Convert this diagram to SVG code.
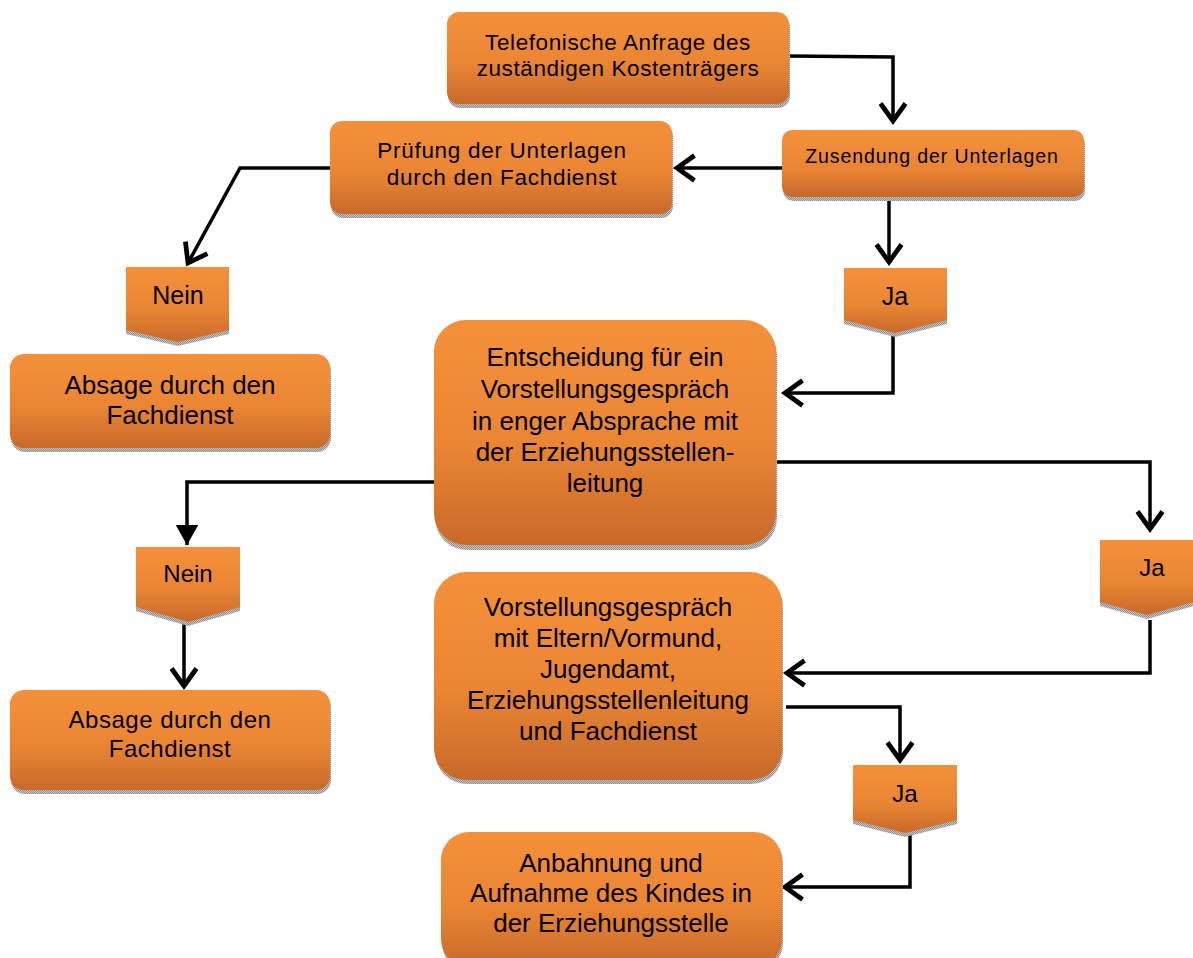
<svg xmlns="http://www.w3.org/2000/svg" width="1193" height="958" viewBox="0 0 1193 958">
<defs>
<linearGradient id="og" x1="0" y1="0" x2="0" y2="1">
<stop offset="0" stop-color="#f5903a"/>
<stop offset="0.55" stop-color="#ea8633"/>
<stop offset="1" stop-color="#c8692a"/>
</linearGradient>
<pattern id="stip" width="2" height="2" patternUnits="userSpaceOnUse">
<rect width="2" height="2" fill="#c8c8c8"/>
<rect width="1" height="1" fill="#8a8a8a"/>
<rect x="1" y="1" width="1" height="1" fill="#8a8a8a"/>
</pattern>
<marker id="open" markerUnits="userSpaceOnUse" markerWidth="30" markerHeight="30" viewBox="-18 -12 22 24" refX="0" refY="0" orient="auto">
<path d="M-14,-10 L0,0 L-14,10" fill="none" stroke="#000" stroke-width="3.8" stroke-linejoin="miter"/>
</marker>
<marker id="solid" markerUnits="userSpaceOnUse" markerWidth="30" markerHeight="30" viewBox="-18 -12 22 24" refX="0" refY="0" orient="auto">
<path d="M-16,-9 L0,0 L-16,9 Z" fill="#000"/>
</marker>
</defs>
<style>
.box{fill:url(#og);}
.sh{fill:url(#stip);}
.t{font-family:"Liberation Sans",Arial,Helvetica,sans-serif;fill:#000;text-anchor:middle;}
.c{fill:none;stroke:#000;stroke-width:3.5;stroke-linejoin:miter;}
</style>

<g id="connectors">
<path class="c" d="M789,56 L893,57 L893,121" marker-end="url(#open)"/>
<path class="c" d="M782,168 L677,168" marker-end="url(#open)"/>
<path class="c" d="M889,197 L889,262" marker-end="url(#open)"/>
<path class="c" d="M330,168 L240,168 L188,263" marker-end="url(#open)"/>
<path class="c" d="M893,333 L893,393 L785,393" marker-end="url(#open)"/>
<path class="c" d="M776,462 L1150,462 L1150,529" marker-end="url(#open)"/>
<path class="c" d="M434,482 L187,482 L187,545" marker-end="url(#solid)"/>
<path class="c" d="M184,622 L184,686" marker-end="url(#open)"/>
<path class="c" d="M1150,620 L1150,673 L787,673" marker-end="url(#open)"/>
<path class="c" d="M786,707 L900,707 L900,760" marker-end="url(#open)"/>
<path class="c" d="M910,833 L910,887 L785,887" marker-end="url(#open)"/>
</g>

<g id="n-telefon">
<rect class="sh" x="448" y="15" width="342" height="93" rx="12"/>
<rect class="box" x="447" y="12" width="342" height="92" rx="12"/>
<text class="t" font-size="22.5" letter-spacing="0.6" x="618" y="50">Telefonische Anfrage des</text>
<text class="t" font-size="22.5" letter-spacing="0.6" x="618" y="76">zuständigen Kostenträgers</text>
</g>

<g id="n-zusendung">
<rect class="sh" x="783" y="133" width="302" height="68" rx="10"/>
<rect class="box" x="782" y="130" width="302" height="67" rx="10"/>
<text class="t" font-size="19.5" letter-spacing="0.9" x="932" y="163">Zusendung der Unterlagen</text>
</g>

<g id="n-pruefung">
<rect class="sh" x="331" y="124" width="342" height="94" rx="12"/>
<rect class="box" x="330" y="121" width="342" height="93" rx="12"/>
<text class="t" font-size="22.5" letter-spacing="0.7" x="502" y="158">Prüfung der Unterlagen</text>
<text class="t" font-size="22.5" letter-spacing="0.7" x="502" y="185">durch den Fachdienst</text>
</g>

<g id="n-nein1">
<path class="sh" d="M126,271 L229,271 L229,334 L178,346 L126,334 Z"/>
<path class="box" d="M126,267 L229,267 L229,330 L178,342 L126,330 Z"/>
<text class="t" font-size="25" x="178" y="304">Nein</text>
</g>

<g id="n-absage1">
<rect class="sh" x="11" y="357" width="320" height="95" rx="14"/>
<rect class="box" x="10" y="354" width="320" height="94" rx="14"/>
<text class="t" font-size="26" x="170" y="394">Absage durch den</text>
<text class="t" font-size="26" x="170" y="424">Fachdienst</text>
</g>

<g id="n-ja1">
<path class="sh" d="M844,272 L947,272 L947,324 L895,337 L844,324 Z"/>
<path class="box" d="M844,268 L947,268 L947,320 L895,333 L844,320 Z"/>
<text class="t" font-size="25" x="895" y="305">Ja</text>
</g>

<g id="n-entscheidung">
<rect class="sh" x="435" y="323" width="342" height="227" rx="32"/>
<rect class="box" x="434" y="320" width="342" height="225" rx="32"/>
<text class="t" font-size="26" x="605" y="366">Entscheidung für ein</text>
<text class="t" font-size="26" x="605" y="398">Vorstellungsgespräch</text>
<text class="t" font-size="26" x="605" y="430">in enger Absprache mit</text>
<text class="t" font-size="26" x="605" y="461">der Erziehungsstellen-</text>
<text class="t" font-size="26" x="605" y="492">leitung</text>
</g>

<g id="n-nein2">
<path class="sh" d="M136,551 L240,551 L240,611 L188,626 L136,611 Z"/>
<path class="box" d="M136,547 L240,547 L240,607 L188,622 L136,607 Z"/>
<text class="t" font-size="24" x="188" y="582">Nein</text>
</g>

<g id="n-ja2">
<path class="sh" d="M1100,544 L1194,544 L1194,606 L1147,619 L1100,606 Z"/>
<path class="box" d="M1100,540 L1194,540 L1194,602 L1147,615 L1100,602 Z"/>
<text class="t" font-size="24" x="1152" y="576">Ja</text>
</g>

<g id="n-vorstellung">
<rect class="sh" x="435" y="575" width="348" height="209" rx="32"/>
<rect class="box" x="434" y="572" width="348" height="208" rx="32"/>
<text class="t" font-size="26" x="608" y="616">Vorstellungsgespräch</text>
<text class="t" font-size="26" x="608" y="647">mit Eltern/Vormund,</text>
<text class="t" font-size="26" x="608" y="678">Jugendamt,</text>
<text class="t" font-size="26" x="608" y="709">Erziehungsstellenleitung</text>
<text class="t" font-size="26" x="608" y="740">und Fachdienst</text>
</g>

<g id="n-absage2">
<rect class="sh" x="11" y="693" width="320" height="101" rx="14"/>
<rect class="box" x="10" y="690" width="320" height="100" rx="14"/>
<text class="t" font-size="24" letter-spacing="0.5" x="170" y="728">Absage durch den</text>
<text class="t" font-size="24" letter-spacing="0.5" x="170" y="757">Fachdienst</text>
</g>

<g id="n-ja3">
<path class="sh" d="M853,769 L957,769 L957,824 L905,837 L853,824 Z"/>
<path class="box" d="M853,765 L957,765 L957,820 L905,833 L853,820 Z"/>
<text class="t" font-size="24" x="905" y="802">Ja</text>
</g>

<g id="n-anbahnung">
<rect class="sh" x="442" y="835" width="341" height="136" rx="28"/>
<rect class="box" x="441" y="832" width="341" height="135" rx="28"/>
<text class="t" font-size="26" x="611" y="872">Anbahnung und</text>
<text class="t" font-size="26" x="611" y="902">Aufnahme des Kindes in</text>
<text class="t" font-size="26" x="611" y="932">der Erziehungsstelle</text>
</g>
</svg>
